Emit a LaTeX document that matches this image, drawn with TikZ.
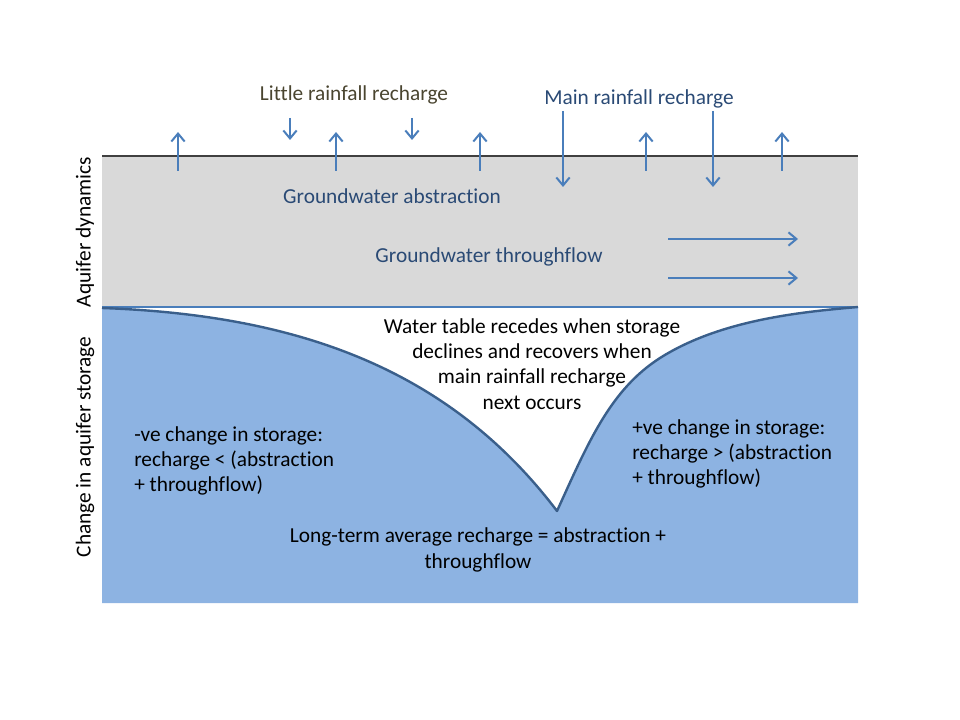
\documentclass[tikz,border=0pt]{standalone}
\usepackage{fontspec}
\setmainfont[Ligatures=NoCommon]{Carlito}
\usetikzlibrary{arrows.meta}
\definecolor{arrowblue}{HTML}{4A7EBB}
\definecolor{fillblue}{HTML}{8DB3E2}
\definecolor{edgeblue}{HTML}{3A5F8B}
\definecolor{greyfill}{HTML}{D9D9D9}
\definecolor{txtblue}{HTML}{2A4A75}
\definecolor{txtolive}{HTML}{4A4530}
\tikzset{
  flow/.style={draw=arrowblue,line width=1.5pt,-{Straight Barb[length=6pt,width=10pt,line width=1.5pt]}},
  lbl/.style={font=\fontsize{16}{19}\selectfont,inner sep=0pt},
  blk/.style={lbl,text=black,align=center},
  blkl/.style={lbl,text=black,align=left},
}
\begin{document}
\begin{tikzpicture}[x=0.75pt,y=-0.75pt]
\useasboundingbox (0,0) rectangle (960,720);
% grey band
\fill[greyfill] (102,156) rectangle (858,307);
\draw[black!75,line width=0.8pt] (102,156) -- (858,156);
\draw[arrowblue,line width=0.8pt] (102,307) -- (858,307);
% water table points
\coordinate (wl) at (102,308);
\coordinate (wv) at (557,511);
\coordinate (wm) at (660,358);
\coordinate (wr) at (858,307);
% blue storage area
\fill[fillblue] (wl) .. controls (300,315) and (450,370) .. (wv)
  .. controls (588,443) and (610,390) .. (wm)
  .. controls (720,320) and (800,312) .. (wr)
  -- (858,603) -- (102,603) -- cycle;
\draw[edgeblue,line width=1.8pt,line join=round] (wl) .. controls (300,315) and (450,370) .. (wv)
  .. controls (588,443) and (610,390) .. (wm)
  .. controls (720,320) and (800,312) .. (wr);
% arrow coordinates
\coordinate (u1a) at (178,171); \coordinate (u1b) at (178,132);
\coordinate (u2a) at (336,171); \coordinate (u2b) at (336,132);
\coordinate (u3a) at (480,171); \coordinate (u3b) at (480,132);
\coordinate (u4a) at (646,171); \coordinate (u4b) at (646,132);
\coordinate (u5a) at (782,171); \coordinate (u5b) at (782,132);
\coordinate (d1a) at (290,118); \coordinate (d1b) at (290,140);
\coordinate (d2a) at (412,118); \coordinate (d2b) at (412,140);
\coordinate (d3a) at (563,111); \coordinate (d3b) at (563,187);
\coordinate (d4a) at (713,111); \coordinate (d4b) at (713,187);
\coordinate (h1a) at (668,239); \coordinate (h1b) at (798,239);
\coordinate (h2a) at (668,278); \coordinate (h2b) at (798,278);
\foreach \n in {u1,u2,u3,u4,u5,d1,d2,d3,d4,h1,h2} \draw[flow] (\n a) -- (\n b);
% labels
\node[lbl,text=txtolive] (little) at (354,95) {Little rainfall recharge};
\node[lbl,text=txtblue] (main) at (639,99) {Main rainfall recharge};
\node[lbl,text=txtblue] (abs) at (392,196) {Groundwater abstraction};
\node[lbl,text=txtblue] (thr) at (489,257) {Groundwater throughflow};
\node[blk] (wt) at (532,364) {Water table recedes when storage\\declines and recovers when\\main rainfall recharge\\next occurs};
\node[blkl,anchor=north west] (neg) at (134,426) {-ve change in storage:\\recharge < (abstraction\\+ throughflow)};
\node[blkl,anchor=north west] (pos) at (632,419) {+ve change in storage:\\recharge > (abstraction\\+ throughflow)};
\node[blk] (lt) at (478,550) {Long-term average recharge = abstraction +\\throughflow};
\node[lbl,text=black,rotate=90] (aqd) at (85,232) {Aquifer dynamics};
\node[lbl,text=black,rotate=90] (cas) at (85,447) {Change in aquifer storage};
\end{tikzpicture}
\end{document}
